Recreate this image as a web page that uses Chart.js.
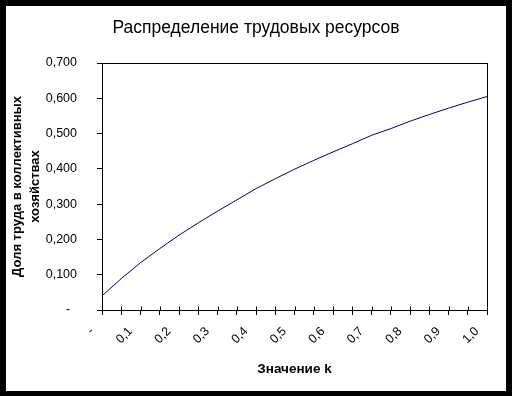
<!DOCTYPE html>
<html>
<head>
<meta charset="utf-8">
<script src="https://cdn.jsdelivr.net/npm/chart.js@4/dist/chart.umd.min.js"></script>
<style>
  html, body { margin: 0; padding: 0; background: #000; }
  #wrap { width: 512px; height: 396px; }
</style>
</head>
<body>
<div id="wrap"><canvas id="chart" width="512" height="396"></canvas></div>
<script>
// k values (categories) and share of labour in collective farms
const kValues = [0, 0.05, 0.1, 0.15, 0.2, 0.25, 0.3, 0.35, 0.4, 0.45, 0.5,
                 0.55, 0.6, 0.65, 0.7, 0.75, 0.8, 0.85, 0.9, 0.95, 1.0];
const laborShare = [0.040, 0.089, 0.134, 0.174, 0.212, 0.247, 0.280, 0.312, 0.344, 0.372, 0.399,
                    0.424, 0.448, 0.471, 0.495, 0.514, 0.535, 0.554, 0.572, 0.589, 0.605];
const xTickLabels = ['-', '', '0,1', '', '0,2', '', '0,3', '', '0,4', '', '0,5',
                     '', '0,6', '', '0,7', '', '0,8', '', '0,9', '', '1,0'];
const yTickLabels = ['-  ', '0,100', '0,200', '0,300', '0,400', '0,500', '0,600', '0,700'];

const tickFont = { family: 'Liberation Sans, Arial, sans-serif', size: 12.5 };

// black outer frame, white chart background, box around plot area
const framePlugin = {
    id: 'frame',
    beforeDraw(chart) {
        const ctx = chart.ctx;
        ctx.save();
        ctx.fillStyle = '#000';
        ctx.fillRect(0, 0, chart.width, chart.height);
        ctx.fillStyle = '#fff';
        ctx.fillRect(6, 6, 500, 385);
        ctx.restore();
    },
    afterDraw(chart) {
        const { ctx, chartArea } = chart;
        const l = Math.round(chartArea.left) + 0.5;
        const t = Math.round(chartArea.top) + 0.5;
        const r = Math.round(chartArea.right) + 0.5;
        const b = Math.round(chartArea.bottom) + 0.5;
        ctx.save();
        ctx.strokeStyle = '#000';
        ctx.lineWidth = 1;
        ctx.strokeRect(l, t, r - l, b - t);
        // x ticks cross the axis a little
        const xs = chart.scales.x;
        ctx.beginPath();
        for (let i = 0; i < kValues.length; i++) {
            const x = Math.round(xs.getPixelForTick(i)) + 0.5;
            ctx.moveTo(x, b);
            ctx.lineTo(x, b - 4);
        }
        ctx.stroke();
        ctx.restore();
    }
};

new Chart(document.getElementById('chart'), {
    type: 'line',
    data: {
        labels: kValues,
        datasets: [{
            data: laborShare,
            borderColor: '#000080',
            borderWidth: 1,
            pointRadius: 0,
            tension: 0,
            fill: false
        }]
    },
    options: {
        responsive: false,
        animation: false,
        layout: { padding: 0 },
        plugins: {
            legend: { display: false },
            tooltip: { enabled: false },
            title: {
                display: true,
                text: 'Распределение трудовых ресурсов',
                color: '#000',
                font: { family: 'Liberation Sans, Arial, sans-serif', size: 17.5, weight: 'normal' },
                padding: { top: 18, bottom: 24 }
            }
        },
        scales: {
            x: {
                offset: false,
                border: { display: false },
                grid: { drawOnChartArea: false, drawTicks: true, tickLength: 5, color: '#000' },
                ticks: {
                    autoSkip: false,
                    maxRotation: 45,
                    minRotation: 45,
                    padding: 9,
                    labelOffset: -10,
                    color: '#000',
                    font: tickFont,
                    callback: (value, index) => xTickLabels[index]
                },
                title: {
                    display: true,
                    text: 'Значение k',
                    color: '#000',
                    font: { family: 'Liberation Sans, Arial, sans-serif', size: 13.5, weight: 'bold' },
                    padding: { top: 4, bottom: 19 }
                },
                afterFit: (scale) => { scale.height = 86; }
            },
            y: {
                min: 0,
                max: 0.7,
                border: { display: false },
                grid: { drawOnChartArea: false, drawTicks: true, tickLength: 5, color: '#000' },
                ticks: {
                    stepSize: 0.1,
                    padding: 20,
                    color: '#000',
                    font: tickFont,
                    callback: (value, index) => yTickLabels[index]
                },
                title: {
                    display: true,
                    text: ['Доля труда в коллективных', 'хозяйствах'],
                    color: '#000',
                    font: { family: 'Liberation Sans, Arial, sans-serif', size: 13, weight: 'bold', lineHeight: 1.4 },
                    padding: { top: 8, bottom: 0 }
                },
                afterFit: (scale) => { scale.width = 102; }
            },
            // empty right axis, only keeps the right margin so the title stays centred on the canvas
            yRight: {
                position: 'right',
                border: { display: false },
                grid: { display: false },
                ticks: { display: false },
                afterFit: (scale) => { scale.width = 25; }
            }
        }
    },
    plugins: [framePlugin]
});
</script>
</body>
</html>
